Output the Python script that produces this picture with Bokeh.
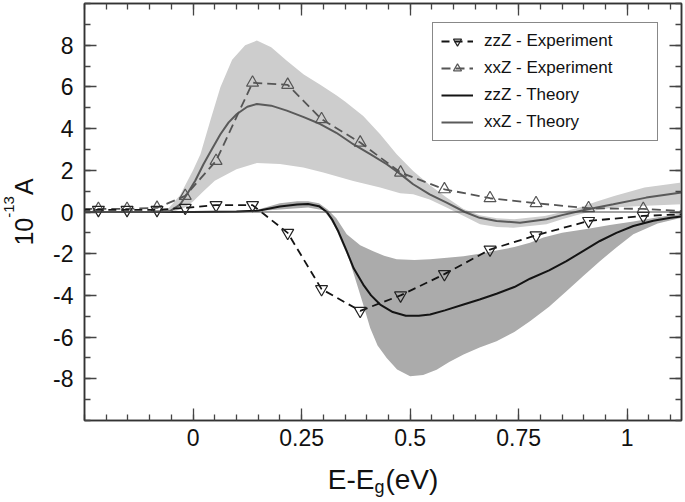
import math
from bokeh.plotting import figure
from bokeh.layouts import row, column
from bokeh.models import (Range1d, FixedTicker, LinearAxis, Span,
                          Legend, LegendItem)
from bokeh.core.properties import value
from bokeh.embed import file_html
from bokeh.resources import INLINE

# ---------------- data ----------------
x_ticks = [0, 0.25, 0.5, 0.75, 1]
x_tick_labels = ["0", "0.25", "0.5", "0.75", "1"]
y_ticks = [-8, -6, -4, -2, 0, 2, 4, 6, 8]
y_tick_labels = ["-8", "-6", "-4", "-2", "0", "2", "4", "6", "8"]

# experiment (shared energy grid)
e_exp = [-0.285, -0.218, -0.152, -0.083, -0.018, 0.053, 0.137, 0.218, 0.296,
         0.385, 0.478, 0.579, 0.684, 0.790, 0.911, 1.037, 1.16]
zz_exp = [0.10, 0.10, 0.10, 0.10, 0.20, 0.33, 0.33, -1.00, -3.70,
          -4.74, -4.00, -2.98, -1.80, -1.12, -0.43, -0.19, -0.08]
xx_exp = [0.15, 0.15, 0.15, 0.20, 0.77, 2.45, 6.20, 6.10, 4.45,
          3.33, 1.89, 1.09, 0.66, 0.42, 0.18, 0.15, 0.0]

# zzZ theory and its band
e_zz_th = [-0.25, 0.0, 0.1, 0.15, 0.2, 0.24, 0.265, 0.29, 0.308, 0.32, 0.335,
           0.354, 0.37, 0.392, 0.41, 0.431, 0.46, 0.49, 0.52, 0.546, 0.58,
           0.623, 0.66, 0.699, 0.74, 0.776, 0.82, 0.86, 0.9, 0.937, 0.975,
           1.014, 1.06, 1.1, 1.125]
zz_th = [0.0, 0.0, 0.02, 0.06, 0.26, 0.36, 0.38, 0.28, 0.0, -0.35, -0.95,
         -1.88, -2.7, -3.48, -4.0, -4.44, -4.8, -4.98, -4.98, -4.92, -4.72,
         -4.44, -4.2, -3.92, -3.6, -3.2, -2.8, -2.36, -1.85, -1.39, -1.0,
         -0.67, -0.42, -0.28, -0.22]
e_zz_up = [-0.25, 0.1, 0.15, 0.2, 0.24, 0.265, 0.29, 0.31, 0.33, 0.354, 0.385,
           0.415, 0.44, 0.469, 0.51, 0.546, 0.585, 0.623, 0.66, 0.699, 0.74,
           0.776, 0.807, 0.85, 0.91, 0.96, 1.014, 1.07, 1.125]
zz_up = [0.03, 0.04, 0.12, 0.42, 0.52, 0.52, 0.42, 0.12, -0.3, -1.07, -1.6,
         -1.88, -2.1, -2.27, -2.3, -2.27, -2.2, -2.12, -2.0, -1.85, -1.68,
         -1.47, -1.22, -1.0, -0.8, -0.62, -0.45, -0.25, -0.08]
e_zz_lo = [-0.25, 0.1, 0.2, 0.265, 0.3, 0.315, 0.33, 0.345, 0.36, 0.375, 0.39,
           0.408, 0.425, 0.446, 0.47, 0.5, 0.53, 0.561, 0.59, 0.623, 0.66,
           0.699, 0.74, 0.776, 0.82, 0.86, 0.9, 0.937, 0.975, 1.014, 1.07, 1.125]
zz_lo = [-0.03, -0.03, 0.12, 0.22, 0.08, -0.3, -0.85, -1.6, -2.3, -3.3, -4.3,
         -5.56, -6.4, -7.0, -7.55, -7.88, -7.82, -7.56, -7.2, -6.84, -6.5,
         -6.2, -5.75, -5.24, -4.55, -3.8, -3.05, -2.36, -1.7, -1.07, -0.55, -0.27]

# xxZ theory and its band
e_xx_th = [-0.25, -0.1, -0.052, -0.03, -0.014, 0.005, 0.024, 0.043, 0.063,
           0.082, 0.101, 0.125, 0.147, 0.18, 0.216, 0.255, 0.293, 0.33, 0.369,
           0.41, 0.446, 0.477, 0.507, 0.545, 0.584, 0.626, 0.66, 0.699, 0.753,
           0.814, 0.85, 0.891, 0.93, 0.968, 1.044, 1.125]
xx_th = [0.0, 0.0, 0.05, 0.35, 0.85, 1.5, 2.29, 3.0, 3.73, 4.3, 4.7, 5.05,
         5.18, 5.1, 4.86, 4.55, 4.22, 3.8, 3.25, 2.75, 2.29, 1.83, 1.33, 0.85,
         0.45, 0.0, -0.28, -0.43, -0.51, -0.35, -0.15, 0.05, 0.22, 0.37, 0.69, 0.93]
e_xx_up = [-0.25, -0.1, -0.06, -0.03, 0.0, 0.017, 0.04, 0.063, 0.09, 0.12,
           0.147, 0.18, 0.216, 0.255, 0.293, 0.33, 0.35, 0.392, 0.431, 0.469,
           0.507, 0.545, 0.584, 0.622, 0.66, 0.7, 0.74, 0.81, 0.85, 0.89, 0.93,
           0.97, 1.04, 1.125]
xx_up = [0.03, 0.04, 0.1, 0.8, 2.0, 2.77, 4.4, 5.98, 7.3, 8.0, 8.22, 7.9,
         7.26, 6.6, 6.1, 5.6, 5.3, 4.6, 3.73, 2.77, 1.97, 1.3, 0.69, 0.15,
         -0.15, -0.3, -0.35, -0.19, 0.0, 0.21, 0.5, 0.77, 1.17, 1.41]
e_xx_lo = [-0.25, -0.05, -0.02, 0.0, 0.024, 0.05, 0.1, 0.147, 0.2, 0.254, 0.3,
           0.369, 0.431, 0.477, 0.507, 0.545, 0.584, 0.62, 0.661, 0.7, 0.738,
           0.814, 0.85, 0.891, 0.93, 0.968, 1.044, 1.125]
xx_lo = [-0.03, -0.02, 0.2, 0.5, 1.0, 1.5, 2.05, 2.35, 2.3, 2.13, 1.9, 1.49,
         1.17, 0.9, 0.85, 0.6, 0.21, -0.15, -0.59, -0.72, -0.75, -0.59, -0.35,
         -0.11, 0.08, 0.21, 0.3, 0.37]

x_title_parts = ["E-E", "g", "(eV)"]
y_title_parts = ["10", "-13", "A"]

# ---------------- layout constants ----------------
X0, X1 = -0.25, 1.125
Y0, Y1 = -10, 10
YW = 50            # width of the y-title strip
MW, MH = 635, 458  # main figure
XH = 44            # height of the x-title strip
BL, BR, BT, BB = 34, 4, 3, 38
FONT = "Liberation Sans"
INK = "#111111"
MID = 0.35         # 'middle' anchor sits this many em above the baseline


def blank(width, height):
    f = figure(width=width, height=height, output_backend="svg",
               toolbar_location=None, x_axis_location=None,
               y_axis_location=None, x_range=Range1d(0, width),
               y_range=Range1d(0, height), min_border=0,
               frame_align=False)
    f.min_border_left = 0
    f.min_border_right = 0
    f.min_border_top = 0
    f.min_border_bottom = 0
    f.outline_line_color = None
    f.background_fill_color = "white"
    f.border_fill_color = "white"
    f.grid.visible = False
    return f


p = figure(width=MW, height=MH, output_backend="svg", toolbar_location=None,
           x_range=Range1d(X0, X1), y_range=Range1d(Y0, Y1),
           x_axis_location=None, y_axis_location=None,
           min_border_left=BL, min_border_right=BR,
           min_border_top=BT, min_border_bottom=BB, frame_align=False)
p.background_fill_color = "white"
p.border_fill_color = "white"
p.outline_line_color = "#333333"
p.outline_line_width = 1.5
p.grid.visible = False


def make_axis(ticks, minor, labels, show, standoff=10):
    ax = LinearAxis(ticker=FixedTicker(ticks=ticks, minor_ticks=minor))
    ax.axis_line_color = "#333333"
    ax.axis_line_width = 1.5
    ax.major_tick_in = 12
    ax.major_tick_out = 0
    ax.minor_tick_in = 6
    ax.minor_tick_out = 0
    ax.major_tick_line_color = "#444444"
    ax.major_tick_line_width = 1.3
    ax.minor_tick_line_color = "#444444"
    ax.minor_tick_line_width = 1.3
    if show:
        ax.major_label_overrides = dict(zip(ticks, labels))
        ax.major_label_text_font = FONT
        ax.major_label_text_font_size = "23px"
        ax.major_label_text_color = INK
        ax.major_label_standoff = standoff
    else:
        ax.major_label_overrides = {t: "" for t in ticks}
        ax.major_label_text_font_size = "0px"
        ax.major_label_standoff = 0
    return ax


x_minor = [round(-0.25 + 0.05 * i, 2) for i in range(28)]
y_minor = list(range(-10, 11))
p.add_layout(make_axis(x_ticks, x_minor, x_tick_labels, True, 8), "below")
p.add_layout(make_axis(x_ticks, x_minor, x_tick_labels, False), "above")
p.add_layout(make_axis(y_ticks, y_minor, y_tick_labels, True, 11), "left")
p.add_layout(make_axis(y_ticks, y_minor, y_tick_labels, False), "right")

# ---------------- bands ----------------
p.patch(e_xx_up + e_xx_lo[::-1], xx_up + xx_lo[::-1],
        fill_color="#cdcdcd", line_color=None)
p.patch(e_zz_up + e_zz_lo[::-1], zz_up + zz_lo[::-1],
        fill_color="#ababab", line_color=None)

p.add_layout(Span(location=0, dimension="width", line_color="#444444",
                  line_width=1))

# ---------------- lines ----------------
r_zz_th = p.line(e_zz_th, zz_th, line_color="#141414", line_width=2)
r_xx_th = p.line(e_xx_th, xx_th, line_color="#5a5a5a", line_width=2)

r_xx_l = p.line(e_exp, xx_exp, line_color="#555555", line_width=1.8,
                line_dash="9 5")
r_xx_m = p.scatter(e_exp, xx_exp, marker="triangle", size=12,
                   fill_color=None, line_color="#555555", line_width=1.2)
r_zz_l = p.line(e_exp, zz_exp, line_color="#141414", line_width=1.8,
                line_dash="8 5")
r_zz_m = p.scatter(e_exp, zz_exp, marker="inverted_triangle", size=12,
                   fill_color=None, line_color="#222222", line_width=1.2)

# ---------------- legend ----------------
legend = Legend(items=[
    LegendItem(label="zzZ - Experiment", renderers=[r_zz_l, r_zz_m]),
    LegendItem(label="xxZ - Experiment", renderers=[r_xx_l, r_xx_m]),
    LegendItem(label="zzZ - Theory", renderers=[r_zz_th]),
    LegendItem(label="xxZ - Theory", renderers=[r_xx_th]),
], location=(348, 279))
legend.border_line_color = INK
legend.border_line_width = 1.5
legend.background_fill_color = "white"
legend.background_fill_alpha = 1.0
legend.label_text_font = FONT
legend.label_text_font_size = "17px"
legend.label_text_color = INK
legend.glyph_width = 32
legend.glyph_height = 20
legend.label_height = 20
legend.label_width = 165
legend.label_standoff = 11
legend.spacing = 7
legend.padding = 8
legend.margin = 0
p.add_layout(legend)

# ---------------- x title strip: E-E_g(eV) ----------------
xf = blank(MW, XH)
main_fs, sub_fs = 28, 18
w1 = 1.667 * main_fs
w2 = 0.556 * sub_fs
w3 = 1.889 * main_fs
xc = BL + (MW - BL - BR) / 2
x_start = xc - (w1 + w2 + w3 + 1) / 2
base = 13          # baseline height above strip bottom
for txt, px, bl, fs in [(x_title_parts[0], x_start, base, main_fs),
                        (x_title_parts[1], x_start + w1, base - 4, sub_fs),
                        (x_title_parts[2], x_start + w1 + w2 + 1, base, main_fs)]:
    xf.text(x=[px], y=[bl + MID * fs], text=[txt], text_font=value(FONT),
            text_font_size=value(f"{fs}px"), text_color=INK,
            text_align="left", text_baseline="middle")

# ---------------- y title strip: 10^-13 A ----------------
TH = MH + XH
yf = blank(YW, TH)
ymain, ysup = 25, 15
l1 = 1.112 * ymain
l2 = (0.333 + 0.556 * 2) * ysup
l3 = 0.667 * ymain
frame_mid_from_top = BT + (MH - BT - BB) / 2
yc = TH - frame_mid_from_top
y_start = yc - (l1 + l2 + l3 + 1) / 2
bx = 32            # baseline position of the rotated title
for txt, bl, py, fs in [(y_title_parts[0], bx, y_start, ymain),
                        (y_title_parts[1], bx - 18, y_start + l1, ysup),
                        (y_title_parts[2], bx, y_start + l1 + l2 + 1, ymain)]:
    yf.text(x=[bl - MID * fs], y=[py], text=[txt], text_font=value(FONT),
            text_font_size=value(f"{fs}px"), text_color=INK,
            angle=math.pi / 2, text_align="left", text_baseline="middle")

layout = row(yf, column(p, xf, spacing=0), spacing=0)
open("out.html", "w").write(file_html(layout, INLINE))
